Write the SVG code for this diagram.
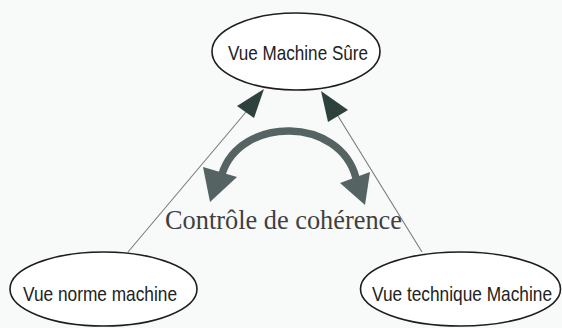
<svg xmlns="http://www.w3.org/2000/svg" width="562" height="328" viewBox="0 0 562 328">
<style>
.node ellipse{fill:#ffffff;stroke:#1e1e1e;stroke-width:1.6}
.node text{font-family:"Liberation Sans Narrow","Liberation Sans",Arial,sans-serif;font-size:21px;fill:#222222;text-anchor:middle}
.link{stroke:#7a7a7a;stroke-width:1.1;fill:none}
.head{fill:#2e423d}
.curve{stroke:#566363;stroke-width:7.5;fill:none}
.curvehead{fill:#566363}
.label{font-family:"Liberation Serif","Times New Roman",serif;font-size:27px;fill:#3f3f3f}
</style>
<rect x="0" y="0" width="562" height="328" fill="#f8f9f9"/>
<g id="connectors">
<line class="link" x1="128" y1="252" x2="246" y2="112"/>
<polygon class="head" points="264,89 237,106 254,118"/>
<line class="link" x1="422" y1="252" x2="338" y2="116"/>
<polygon class="head" points="321,91 348,110 328,122"/>
<path class="curve" d="M 222 174 C 240 116, 340 116, 356 178"/>
<polygon class="curvehead" points="203,167 237,177 210,202"/>
<polygon class="curvehead" points="340,183 370,172 365,205"/>
<text class="label" x="165" y="229" textLength="237" lengthAdjust="spacingAndGlyphs">Contrôle de cohérence</text>
</g>
<g id="vue-machine-sure" class="node">
<ellipse cx="296" cy="51.5" rx="84" ry="38.5"/>
<text x="298" y="60" textLength="140" lengthAdjust="spacingAndGlyphs">Vue Machine Sûre</text>
</g>
<g id="vue-norme-machine" class="node">
<ellipse cx="103.5" cy="289" rx="93.5" ry="37"/>
<text x="100" y="301" textLength="154" lengthAdjust="spacingAndGlyphs">Vue norme machine</text>
</g>
<g id="vue-technique-machine" class="node">
<ellipse cx="460.5" cy="289" rx="100" ry="37"/>
<text x="462" y="301" textLength="180" lengthAdjust="spacingAndGlyphs">Vue technique Machine</text>
</g>
</svg>
